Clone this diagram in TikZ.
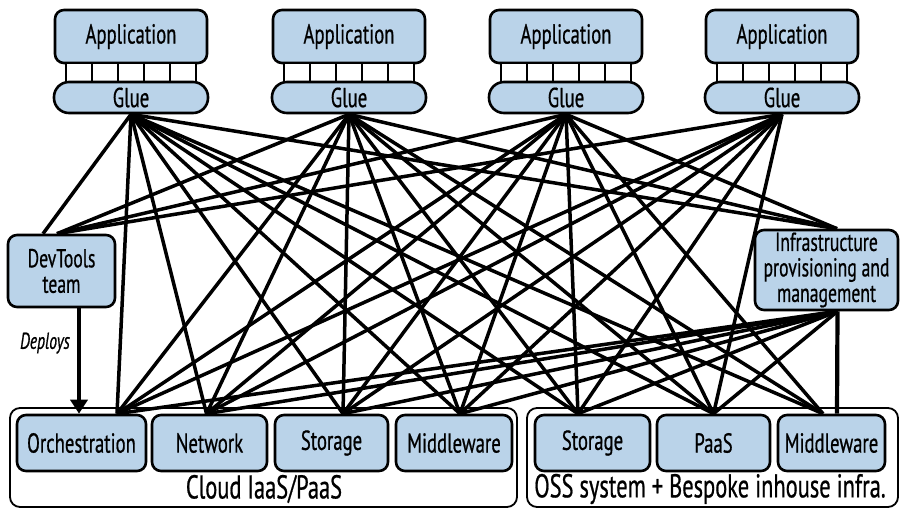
\documentclass[tikz,border=0pt]{standalone}
\usepackage{fontspec}
\setmainfont{PT Sans}[FakeStretch=0.68, FakeBold=0.6]
\usetikzlibrary{arrows.meta}
\definecolor{boxblue}{RGB}{186,211,233}
\pgfdeclarelayer{back}
\pgfdeclarelayer{lines}
\pgfsetlayers{back,lines,main}
\begin{document}
\begin{tikzpicture}[x=1pt,y=-1pt,
  bluebox/.style={draw, line width=2.6pt, fill=boxblue, rounded corners=9pt, inner sep=0pt, align=center, font=\fontsize{27.5}{24}\selectfont},
  multibox/.style={bluebox, font=\fontsize{26}{25.5}\selectfont},
  gluebox/.style={bluebox, rounded corners=15pt, minimum width=154pt, minimum height=31pt},
  appbox/.style={bluebox, minimum width=152pt, minimum height=53pt},
  botbox/.style={bluebox, minimum height=56pt},
  conn/.style={line width=3.5pt, line join=round},
  cell/.style={draw, line width=2.2pt, fill=white},
  container/.style={draw, line width=1.8pt, rounded corners=10pt, inner sep=0pt},
  grouplabel/.style={font=\fontsize{33}{34}\selectfont, inner sep=0pt},
  deploy/.style={line width=3.5pt, -{Triangle[length=14pt,width=17pt]}},
]
\useasboundingbox (0,0) rectangle (901,509);

% applications with glue
\foreach \c/\n in {131/1,349/2,566/3,782/4} {
  \node[appbox] (app\n) at (\c,36.5) {Application};
  \foreach \i in {0,...,4}
    \draw[cell] (\c-65+26*\i,63) rectangle (\c-39+26*\i,82);
  \node[gluebox] (glue\n) at (\c,97.5) {Glue};
}

% middle boxes
\node[multibox, minimum width=107pt, minimum height=72pt] (dev) at (61.5,271) {DevTools\\team};
\node[multibox, minimum width=143pt, minimum height=80pt] (infra) at (826.5,270) {Infrastructure\\provisioning and\\management};

% containers
\begin{pgfonlayer}{back}
\node[container, minimum width=507pt, minimum height=99pt] (cloud) at (263.5,457.5) {};
\node[container, minimum width=371pt, minimum height=99pt] (oss) at (712.5,457.5) {};
\end{pgfonlayer}
\node[grouplabel] (cloudlbl) at (264,489) {Cloud IaaS/PaaS};
\node[grouplabel] (osslbl) at (710,489) {OSS system + Bespoke inhouse infra.};

% bottom boxes
\node[botbox, minimum width=129pt] (orch) at (81.5,443) {Orchestration};
\node[botbox, minimum width=115pt] (net) at (209.5,443) {Network};
\node[botbox, minimum width=113pt] (stor) at (331.5,443) {Storage};
\node[botbox, minimum width=116pt] (mid) at (454,443) {Middleware};
\node[botbox, minimum width=115pt] (stor2) at (592.5,443) {Storage};
\node[botbox, minimum width=113pt] (paas) at (713.5,443) {PaaS};
\node[botbox, minimum width=107pt] (mid2) at (831.5,443) {Middleware};

% connection points
\coordinate (pOrch) at ([xshift=35.5pt]orch.north);
\coordinate (pNet) at ([xshift=-3pt]net.north);
\coordinate (pStor) at ([xshift=11.5pt]stor.north);
\coordinate (pMid) at ([xshift=6pt]mid.north);
\coordinate (pStor2) at ([xshift=-14.5pt]stor2.north);
\coordinate (pPaas) at (paas.north);
\coordinate (pMid2) at ([xshift=-8.5pt]mid2.north);
\coordinate (pInfT) at ([xshift=10.5pt]infra.north);
\coordinate (pInfB) at ([xshift=11pt]infra.south);
\coordinate (pMid2B) at ([xshift=5.5pt]mid2.north);
\coordinate (pDevA) at ([xshift=-18.5pt]dev.north);
\coordinate (pDevB) at ([xshift=-4.5pt]dev.north);

\begin{pgfonlayer}{lines}
\foreach \g in {1,...,4}
  \foreach \t in {pOrch,pNet,pStor,pMid,pStor2,pPaas}
    \draw[conn] (glue\g.south) -- (\t);
\foreach \g in {1,2,3} {
  \draw[conn] (glue\g.south) -- (pMid2);
  \draw[conn] (glue\g.south) -- (pInfT);
}
\draw[conn] (glue1.south) -- (pDevA);
\foreach \g in {2,3,4}
  \draw[conn] (glue\g.south) -- (pDevB);
\foreach \t in {pOrch,pNet,pStor,pMid,pStor2,pPaas}
  \draw[conn] (pInfB) -- (\t);
\draw[conn, line width=4.2pt] (pInfB) -- (pMid2B);
\draw[deploy] ([xshift=17.5pt]dev.south) -- ([xshift=17.5pt]dev.south |- orch.north);
\end{pgfonlayer}
\node[font=\fontsize{23}{24}\selectfont\itshape, inner sep=0pt] (deplbl) at (45,343) {Deploys};
\end{tikzpicture}
\end{document}
